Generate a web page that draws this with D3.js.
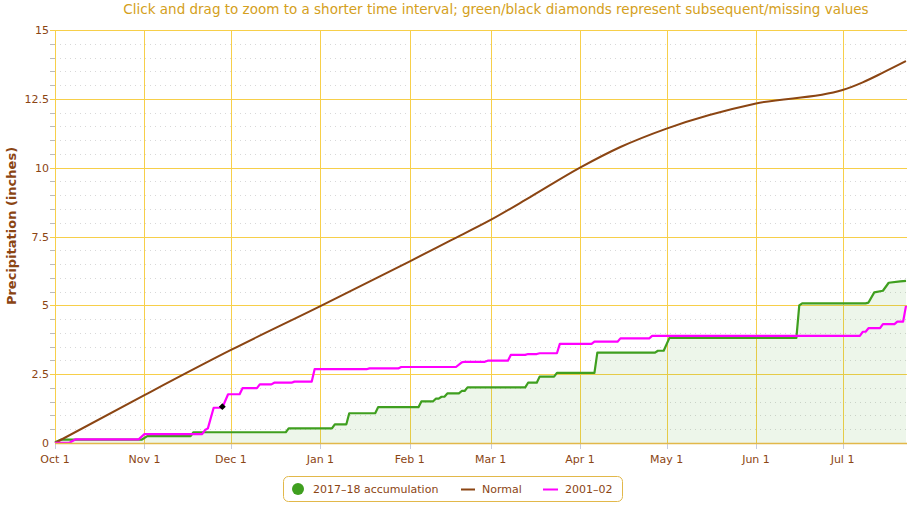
<!DOCTYPE html>
<html><head><meta charset="utf-8">
<script src="https://cdn.jsdelivr.net/npm/d3@7"></script>
<style>
body{margin:0;background:#fff;}
svg{display:block;font-family:"DejaVu Sans",Verdana,sans-serif;}
</style>
</head><body>
<svg id="chart" width="909" height="505"></svg>
<script>
// ---------- DATA ----------
const titleText = "Click and drag to zoom to a shorter time interval; green/black diamonds represent subsequent/missing values";
const yTickValues = [0, 2.5, 5, 7.5, 10, 12.5, 15];
const yTickLabels = ["0", "2.5", "5", "7.5", "10", "12.5", "15"];
const monthTickDates = ["2017-10-01","2017-11-01","2017-12-01","2018-01-01","2018-02-01","2018-03-01","2018-04-01","2018-05-01","2018-06-01","2018-07-01"];
const monthTickLabels = ["Oct 1","Nov 1","Dec 1","Jan 1","Feb 1","Mar 1","Apr 1","May 1","Jun 1","Jul 1"];
const domainStart = "2017-10-01";
const domainEnd = "2018-07-23";

const normalDates = ["2017-10-01","2017-11-01","2017-12-01","2018-01-01","2018-02-01","2018-02-15","2018-03-01","2018-03-15","2018-04-01","2018-04-15","2018-05-01","2018-06-01","2018-07-01","2018-07-08","2018-07-15","2018-07-23"];
const normalValues = [0, 1.74, 3.38, 4.97, 6.6, 7.35, 8.1, 8.95, 10.0, 10.75, 11.42, 12.33, 12.82, 13.1, 13.45, 13.87];

const seasonDates = ["2017-10-01","2017-10-03","2017-10-31","2017-11-02","2017-11-17","2017-11-18","2017-12-20","2017-12-21","2018-01-05","2018-01-06","2018-01-10","2018-01-11","2018-01-20","2018-01-21","2018-02-04","2018-02-05","2018-02-09","2018-02-10","2018-02-11","2018-02-12","2018-02-13","2018-02-14","2018-02-18","2018-02-19","2018-02-20","2018-02-21","2018-03-13","2018-03-14","2018-03-17","2018-03-18","2018-03-23","2018-03-24","2018-04-06","2018-04-07","2018-04-27","2018-04-28","2018-04-30","2018-05-02","2018-06-15","2018-06-16","2018-06-17","2018-07-09","2018-07-10","2018-07-12","2018-07-15","2018-07-17","2018-07-21","2018-07-23"];
const seasonValues = [0.03, 0.12, 0.12, 0.25, 0.25, 0.39, 0.39, 0.53, 0.53, 0.68, 0.68, 1.08, 1.08, 1.30, 1.30, 1.51, 1.51, 1.61, 1.61, 1.68, 1.68, 1.80, 1.80, 1.89, 1.89, 2.02, 2.02, 2.19, 2.19, 2.41, 2.41, 2.55, 2.55, 3.28, 3.28, 3.35, 3.35, 3.82, 3.82, 5.00, 5.07, 5.07, 5.10, 5.47, 5.53, 5.82, 5.87, 5.89];

const histDates = ["2017-10-01","2017-10-06","2017-10-08","2017-10-30","2017-11-01","2017-11-21","2017-11-22","2017-11-23","2017-11-25","2017-11-28","2017-11-30","2017-12-04","2017-12-05","2017-12-10","2017-12-11","2017-12-15","2017-12-16","2017-12-22","2017-12-23","2017-12-29","2017-12-30","2018-01-17","2018-01-18","2018-01-28","2018-01-29","2018-02-17","2018-02-19","2018-02-20","2018-02-27","2018-02-28","2018-03-07","2018-03-08","2018-03-13","2018-03-14","2018-03-17","2018-03-18","2018-03-24","2018-03-25","2018-04-05","2018-04-06","2018-04-14","2018-04-15","2018-04-25","2018-04-26","2018-07-07","2018-07-08","2018-07-09","2018-07-10","2018-07-14","2018-07-15","2018-07-19","2018-07-20","2018-07-22","2018-07-23"];
const histValues = [0.01, 0.01, 0.13, 0.13, 0.32, 0.32, 0.47, 0.53, 1.28, 1.28, 1.77, 1.77, 1.99, 1.99, 2.13, 2.13, 2.19, 2.19, 2.23, 2.23, 2.68, 2.68, 2.71, 2.71, 2.76, 2.76, 2.93, 2.95, 2.95, 2.99, 2.99, 3.20, 3.20, 3.23, 3.23, 3.26, 3.26, 3.60, 3.60, 3.68, 3.68, 3.80, 3.80, 3.89, 3.89, 4.04, 4.04, 4.17, 4.17, 4.32, 4.32, 4.41, 4.41, 4.98];

const missingDates = ["2017-11-28"];
const missingValues = [1.32];

const legendLabels = ["2017–18 accumulation", "Normal", "2001–02"];

// ---------- STYLE ----------
const C = {
  title: "#d4a020", text: "#8b4513", gridGold: "#f7cf4a", axisGold: "#e2b84a",
  minor: "#d8d8d8", green: "#3f9f1f", greenFill: "rgba(90,170,60,0.11)",
  brown: "#8b4513", magenta: "#ff00ff", tick: "#c5cbdc"
};

const parse = d3.utcParse("%Y-%m-%d");
const svg = d3.select("#chart");
const pLeft = 55, pRight = 906, pTop = 30, pBottom = 443;

const x = d3.scaleUtc().domain([parse(domainStart), parse(domainEnd)]).range([pLeft, pRight]);
const y = d3.scaleLinear().domain([0, 15]).range([pBottom, pTop]);

// title
svg.append("text").attr("x", 496).attr("y", 14).attr("text-anchor", "middle")
  .attr("fill", C.title).attr("font-size", 13.5).text(titleText);

// minor dotted gridlines every 0.5
const minorVals = d3.range(0.5, 15, 0.5).filter(v => Math.abs(v / 2.5 - Math.round(v / 2.5)) > 1e-6);
svg.append("g").selectAll("line").data(minorVals).join("line")
  .attr("x1", pLeft).attr("x2", pRight + 1).attr("y1", d => Math.round(y(d)) + 0.5).attr("y2", d => Math.round(y(d)) + 0.5)
  .attr("stroke", C.minor).attr("stroke-dasharray", "1,4");
svg.append("g").selectAll("line").data(minorVals).join("line")
  .attr("x1", pLeft - 5).attr("x2", pLeft).attr("y1", d => Math.round(y(d)) + 0.5).attr("y2", d => Math.round(y(d)) + 0.5)
  .attr("stroke", "#bbb");

// vertical month gridlines
svg.append("g").selectAll("line").data(monthTickDates).join("line")
  .attr("x1", d => Math.round(x(parse(d))) + 0.5).attr("x2", d => Math.round(x(parse(d))) + 0.5)
  .attr("y1", pTop).attr("y2", pBottom).attr("stroke", C.gridGold).attr("stroke-width", 1);

// major horizontal gridlines
svg.append("g").selectAll("line").data(yTickValues.filter(v => v > 0)).join("line")
  .attr("x1", pLeft - 5).attr("x2", pRight + 1).attr("y1", d => Math.round(y(d)) + 0.5).attr("y2", d => Math.round(y(d)) + 0.5)
  .attr("stroke", C.gridGold).attr("stroke-width", 1);

const seasonData = seasonDates.map((d, i) => ({ date: parse(d), v: seasonValues[i] }));
const histData = histDates.map((d, i) => ({ date: parse(d), v: histValues[i] }));
const normalData = normalDates.map((d, i) => ({ date: parse(d), v: normalValues[i] }));

svg.append("path").datum(seasonData)
  .attr("d", d3.area().x(d => x(d.date)).y0(y(0)).y1(d => y(d.v)))
  .attr("fill", C.greenFill);

svg.append("line").attr("x1", pLeft + 0.5).attr("x2", pLeft + 0.5).attr("y1", pTop).attr("y2", pBottom)
  .attr("stroke", C.gridGold);
svg.append("g").selectAll("line").data(monthTickDates).join("line")
  .attr("x1", d => Math.round(x(parse(d))) + 0.5).attr("x2", d => Math.round(x(parse(d))) + 0.5)
  .attr("y1", pBottom).attr("y2", pBottom + 6).attr("stroke", C.tick);

svg.append("path").datum(seasonData)
  .attr("d", d3.line().x(d => x(d.date)).y(d => y(d.v)))
  .attr("fill", "none").attr("stroke", C.green).attr("stroke-width", 2.2).attr("stroke-linejoin", "round");

svg.append("path").datum(normalData)
  .attr("d", d3.line().curve(d3.curveMonotoneX).x(d => x(d.date)).y(d => y(d.v)))
  .attr("fill", "none").attr("stroke", C.brown).attr("stroke-width", 2);

svg.append("path").datum(histData)
  .attr("d", d3.line().x(d => x(d.date)).y(d => y(d.v)))
  .attr("fill", "none").attr("stroke", C.magenta).attr("stroke-width", 2.2).attr("stroke-linejoin", "round");

svg.append("g").selectAll("path").data(missingDates.map((d, i) => ({ date: parse(d), v: missingValues[i] }))).join("path")
  .attr("transform", d => `translate(${x(d.date)},${y(d.v)})`)
  .attr("d", d3.symbol().type(d3.symbolDiamond2).size(30))
  .attr("fill", "#000");

svg.append("line").attr("x1", pLeft).attr("x2", pRight + 1).attr("y1", pBottom + 0.5).attr("y2", pBottom + 0.5)
  .attr("stroke", C.axisGold).attr("stroke-width", 1.5);

svg.append("g").selectAll("text").data(yTickValues).join("text")
  .attr("x", 49).attr("y", d => y(d) + 4).attr("text-anchor", "end")
  .attr("fill", C.text).attr("font-size", 11).text((d, i) => yTickLabels[i]);

svg.append("g").selectAll("text").data(monthTickDates).join("text")
  .attr("x", d => x(parse(d))).attr("y", 463).attr("text-anchor", "middle")
  .attr("fill", C.text).attr("font-size", 11).text((d, i) => monthTickLabels[i]);

svg.append("text").attr("transform", "translate(16,226) rotate(-90)").attr("text-anchor", "middle")
  .attr("fill", C.text).attr("font-size", 13).attr("font-weight", "bold").text("Precipitation (inches)");

const lg = svg.append("g");
lg.append("rect").attr("x", 283.5).attr("y", 476.5).attr("width", 339).attr("height", 25).attr("rx", 5)
  .attr("fill", "#fff").attr("stroke", C.axisGold);
lg.append("circle").attr("cx", 298).attr("cy", 489).attr("r", 6).attr("fill", C.green);
lg.append("text").attr("x", 313).attr("y", 493).attr("fill", C.text).attr("font-size", 11).text(legendLabels[0]);
lg.append("line").attr("x1", 461).attr("x2", 475).attr("y1", 489.5).attr("y2", 489.5).attr("stroke", C.brown).attr("stroke-width", 2);
lg.append("text").attr("x", 482).attr("y", 493).attr("fill", C.text).attr("font-size", 11).text(legendLabels[1]);
lg.append("line").attr("x1", 543).attr("x2", 558).attr("y1", 489.5).attr("y2", 489.5).attr("stroke", C.magenta).attr("stroke-width", 2);
lg.append("text").attr("x", 565).attr("y", 493).attr("fill", C.text).attr("font-size", 11).text(legendLabels[2]);
</script>
</body></html>
